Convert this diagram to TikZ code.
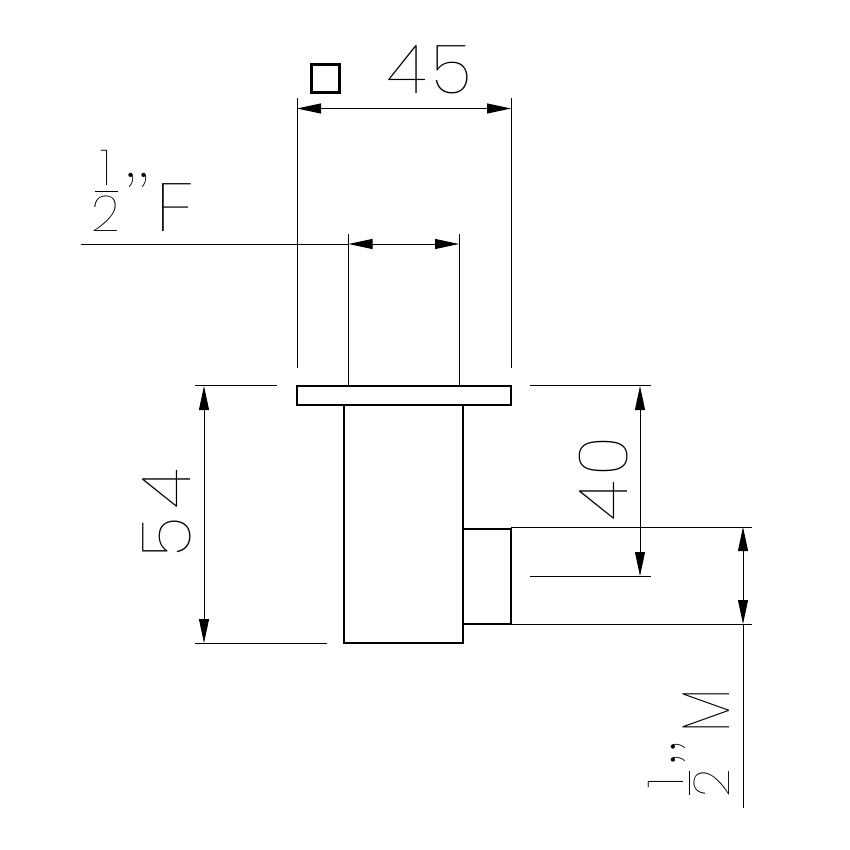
\documentclass[tikz,border=0pt]{standalone}
\usepackage{fontspec}
\usetikzlibrary{arrows.meta}
\newfontfamily\cadfont{Poppins Thin}
\tikzset{
  thinline/.style={line width=0.9pt},
  partline/.style={line width=1.9pt},
  dimline/.style={line width=0.9pt,{Triangle[length=24pt,width=10pt]}-{Triangle[length=24pt,width=10pt]}},
  bigtext/.style={inner sep=0pt,font=\cadfont\fontsize{68}{68}\selectfont},
  midtext/.style={inner sep=0pt,font=\cadfont\fontsize{50}{50}\selectfont},
  quotetext/.style={inner sep=0pt,font=\rmfamily\fontsize{52}{52}\selectfont}
}
\begin{document}
\begin{tikzpicture}[x=1pt,y=-1pt]
  \useasboundingbox (0,0) rectangle (850,850);
  % part outline
  \draw[partline] (297,386) rectangle (511,405);
  \draw[partline] (344,405) rectangle (463,643);
  \draw[partline] (463,529) rectangle (511,624);
  \draw[line width=3pt] (311.5,64.5) rectangle (339.5,92.5);
  % extension lines
  \foreach \xa/\ya/\xb/\yb in {297/98/297/368, 511/98/511/368, 348.5/234/348.5/386, 459/234/459/386,
      195/385/277/385, 530/385/651/385, 195/643/327/643, 530/576/651/576,
      511/527/752/527, 511/624/752/624} {
    \draw[thinline] (\xa,\ya) -- (\xb,\yb);
  }
  % dimensions
  \coordinate (squareleft) at (297,108.5);
  \coordinate (squareright) at (511,108.5);
  \coordinate (boreleft) at (348.5,244);
  \coordinate (boreright) at (459,244);
  \coordinate (boreend) at (81,244);
  \coordinate (heighttop) at (204,386);
  \coordinate (heightbottom) at (204,643);
  \coordinate (offsettop) at (640,386);
  \coordinate (offsetbottom) at (640,576);
  \coordinate (stubtop) at (743,527);
  \coordinate (stubbottom) at (743,624);
  \coordinate (stubend) at (743,808);
  \draw[dimline] (squareleft) -- (squareright);
  \draw[dimline] (boreleft) -- (boreright);
  \draw[thinline] (boreend) -- (boreleft);
  \draw[dimline] (heighttop) -- (heightbottom);
  \draw[dimline] (offsettop) -- (offsetbottom);
  \draw[dimline] (stubtop) -- (stubbottom);
  \draw[thinline] (stubbottom) -- (stubend);
  % labels
  \node[bigtext,anchor=base west] (squaresize) at (387,94) {4\kern5pt 5};
  \node[bigtext,anchor=base west,rotate=90] (heightsize) at (190,558) {5\kern9pt 4};
  \node[bigtext,anchor=base west,rotate=90] (offsetsize) at (627,521) {4\kern5pt 0};
  \node[midtext,anchor=base] (fone) at (106,186) {1};
  \draw[thinline] (95,191) -- (118,191);
  \node[midtext,anchor=base] (ftwo) at (106,231) {2};
  \node[quotetext,anchor=base] (fquote) at (137,178) {,{},};
  \node[bigtext,anchor=base west] (fletter) at (155,231) {\scalebox{1.22}[1]{F}};
  \node[midtext,anchor=base,rotate=90] (mone) at (683,783) {1};
  \draw[thinline] (689,771) -- (689,795);
  \node[midtext,anchor=base,rotate=90] (mtwo) at (729,783) {2};
  \node[quotetext,anchor=base,rotate=90] (mquote) at (675,753) {,{},};
  \node[bigtext,anchor=base west,rotate=90] (mletter) at (729,733) {\scalebox{0.8}[1]{M}};
\end{tikzpicture}
\end{document}
